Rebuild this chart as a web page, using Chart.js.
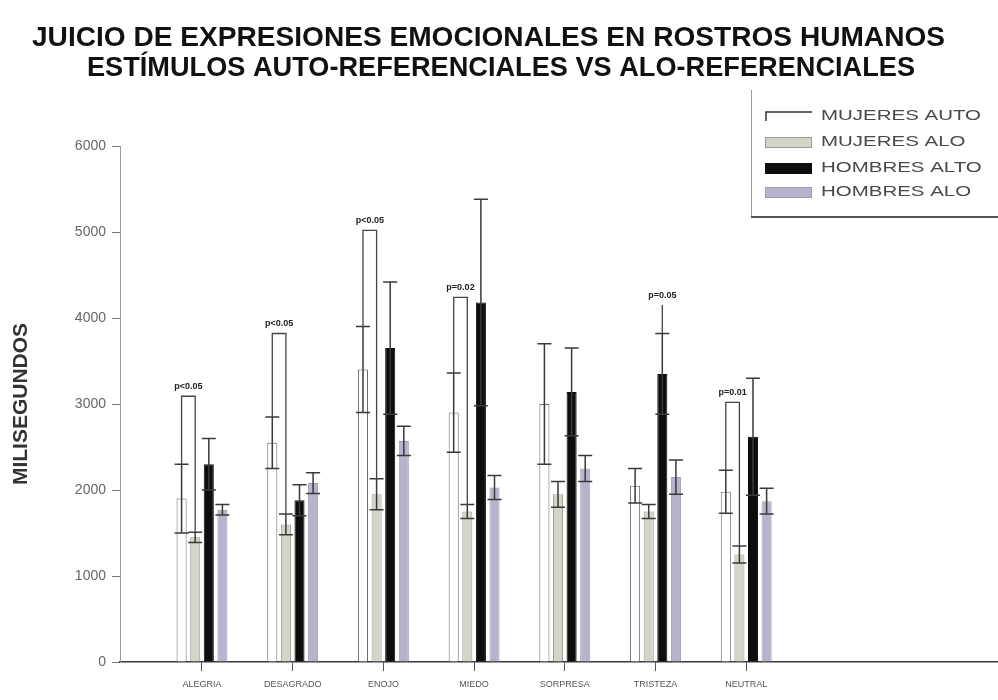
<!DOCTYPE html>
<html lang="es">
<head>
<meta charset="UTF-8">
<title>Juicio de expresiones emocionales en rostros humanos</title>
<script src="https://cdn.jsdelivr.net/npm/chart.js"></script>
<style>
    html, body { margin: 0; padding: 0; background: #fff; }
    #chart { display: block; }
</style>
</head>
<body>
<canvas id="chart" width="998" height="700"></canvas>
<script>
// emociones
const categories = ['ALEGRIA', 'DESAGRADO', 'ENOJO', 'MIEDO', 'SORPRESA', 'TRISTEZA', 'NEUTRAL'];

// tiempos medios (ms) y error por grupo
const mujeresAuto = [1900, 2550, 3400, 2900, 3000, 2050, 1980];
const mujeresAutoErr = [400, 300, 500, 460, 700, 200, 250];
const mujeresAlo = [1450, 1600, 1950, 1750, 1950, 1750, 1250];
const mujeresAloErr = [60, 120, 180, 80, 150, 80, 100];
const hombresAuto = [2300, 1880, 3650, 4180, 3140, 3350, 2620];
const hombresAutoErr = [300, 180, 770, 1200, 510, 470, 680];
const hombresAlo = [1770, 2080, 2570, 2030, 2250, 2150, 1870];
const hombresAloErr = [60, 120, 170, 140, 150, 200, 150];

const seriesNames = ['MUJERES AUTO', 'MUJERES ALO', 'HOMBRES ALTO', 'HOMBRES ALO'];
const yTicks = [0, 1000, 2000, 3000, 4000, 5000, 6000];

// comparaciones marcadas: emoción, barra inicial, barra final, altura, texto
const pCategory = [0, 1, 2, 3, 5, 6];
const pFrom = [0, 0, 0, 0, 2, 0];
const pTo = [1, 1, 1, 1, 2, 1];
const pHeight = [3090, 3820, 5020, 4240, 4150, 3020];
const pLabels = ['p<0.05', 'p<0.05', 'p<0.05', 'p=0.02', 'p=0.05', 'p=0.01'];

const titleLines = [
    'JUICIO DE EXPRESIONES EMOCIONALES EN ROSTROS HUMANOS',
    'ESTÍMULOS AUTO-REFERENCIALES VS ALO-REFERENCIALES'
];

const values = [mujeresAuto, mujeresAlo, hombresAuto, hombresAlo];
const errors = [mujeresAutoErr, mujeresAloErr, hombresAutoErr, hombresAloErr];
const fills = ['#ffffff', '#d3d5c9', '#0d0d0d', '#b5b4cc'];
const borders = ['#6a6a6a', '#9a9c92', '#0d0d0d', '#9c9bb8'];

const toPoints = arr => arr.map((v, i) => ({ x: i + 1, y: v }));

// barras de error (+/-) con remates
const errorBars = {
    id: 'errorBars',
    afterDatasetsDraw(chart) {
        const { ctx } = chart;
        const y = chart.scales.y;
        ctx.save();
        ctx.strokeStyle = '#3a3a3a';
        ctx.lineWidth = 1.5;
        values.forEach((series, s) => {
            const meta = chart.getDatasetMeta(s);
            meta.data.forEach((bar, i) => {
                const top = y.getPixelForValue(series[i] + errors[s][i]);
                const bot = y.getPixelForValue(series[i] - errors[s][i]);
                ctx.beginPath();
                ctx.moveTo(bar.x, bot);
                ctx.lineTo(bar.x, top);
                ctx.moveTo(bar.x - 7, top);
                ctx.lineTo(bar.x + 7, top);
                ctx.moveTo(bar.x - 7, bot);
                ctx.lineTo(bar.x + 7, bot);
                ctx.stroke();
            });
        });
        ctx.restore();
    }
};

// corchetes de significancia
const brackets = {
    id: 'brackets',
    afterDatasetsDraw(chart) {
        const { ctx } = chart;
        const y = chart.scales.y;
        ctx.save();
        ctx.strokeStyle = '#444';
        ctx.lineWidth = 1.3;
        ctx.fillStyle = '#222';
        ctx.font = 'bold 9px "Liberation Sans", Arial, sans-serif';
        ctx.textAlign = 'center';
        ctx.textBaseline = 'bottom';
        pCategory.forEach((c, k) => {
            const a = pFrom[k], b = pTo[k];
            const xa = chart.getDatasetMeta(a).data[c].x;
            const xb = chart.getDatasetMeta(b).data[c].x;
            const ya = y.getPixelForValue(values[a][c] + errors[a][c]);
            const yb = y.getPixelForValue(values[b][c] + errors[b][c]);
            const yt = y.getPixelForValue(pHeight[k]);
            ctx.beginPath();
            ctx.moveTo(xa, ya);
            ctx.lineTo(xa, yt);
            if (a !== b) {
                ctx.lineTo(xb, yt);
                ctx.lineTo(xb, yb);
            }
            ctx.stroke();
            ctx.fillText(pLabels[k], (xa + xb) / 2, yt - 5);
        });
        ctx.restore();
    }
};

// título en dos líneas y leyenda en recuadro
const header = {
    id: 'header',
    afterDraw(chart) {
        const { ctx } = chart;
        ctx.save();
        ctx.fillStyle = '#111';
        ctx.textBaseline = 'middle';
        ctx.textAlign = 'center';
        ctx.font = 'bold 28px "Liberation Sans Narrow", "Liberation Sans", Arial, sans-serif';
        const spans = [[32, 945, 38], [87, 915, 68]];
        titleLines.forEach((line, i) => {
            const [x0, x1, yc] = spans[i];
            const k = (x1 - x0) / ctx.measureText(line).width;
            ctx.save();
            ctx.translate((x0 + x1) / 2, yc);
            ctx.scale(k, 1);
            ctx.fillText(line, 0, 0);
            ctx.restore();
        });

        // recuadro
        ctx.strokeStyle = '#9a9a9a';
        ctx.lineWidth = 1;
        ctx.beginPath();
        ctx.moveTo(751.5, 90);
        ctx.lineTo(751.5, 216);
        ctx.stroke();
        ctx.strokeStyle = '#555';
        ctx.lineWidth = 2;
        ctx.beginPath();
        ctx.moveTo(751, 217);
        ctx.lineTo(998, 217);
        ctx.stroke();

        const rows = [116, 142, 168, 192];
        ctx.font = '15px "Liberation Sans", Arial, sans-serif';
        ctx.textAlign = 'left';
        const k = 160 / ctx.measureText(seriesNames[0]).width;
        seriesNames.forEach((name, s) => {
            const yc = rows[s];
            if (s === 0) {
                ctx.strokeStyle = '#333';
                ctx.lineWidth = 1.5;
                ctx.beginPath();
                ctx.moveTo(766, yc + 5);
                ctx.lineTo(766, yc - 4);
                ctx.lineTo(812, yc - 4);
                ctx.stroke();
            } else {
                ctx.fillStyle = fills[s];
                ctx.fillRect(765, yc - 5, 47, 11);
                ctx.strokeStyle = borders[s];
                ctx.lineWidth = 1;
                ctx.strokeRect(765.5, yc - 4.5, 46, 10);
            }
            ctx.fillStyle = '#4a4a4a';
            ctx.save();
            ctx.translate(821, yc);
            ctx.scale(k, 1);
            ctx.fillText(name, 0, 0);
            ctx.restore();
        });
        ctx.restore();
    }
};

new Chart(document.getElementById('chart'), {
    type: 'bar',
    data: {
        datasets: seriesNames.map((name, s) => ({
            label: name,
            data: toPoints(values[s]),
            backgroundColor: fills[s],
            borderColor: borders[s],
            borderWidth: 1,
            categoryPercentage: 0.6,
            barPercentage: 0.74
        }))
    },
    options: {
        responsive: false,
        animation: false,
        layout: { padding: { top: 146, right: 0, bottom: 0, left: 0 } },
        plugins: {
            legend: { display: false },
            title: { display: false },
            tooltip: { enabled: false }
        },
        scales: {
            x: {
                type: 'linear',
                offset: false,
                min: 0.096,
                max: 9.776,
                afterBuildTicks: scale => {
                    scale.ticks = categories.map((c, i) => ({ value: i + 1 }));
                },
                afterFit: scale => { scale.height = 38; },
                ticks: {
                    callback: v => categories[v - 1] || '',
                    color: '#555',
                    font: { size: 9, family: '"Liberation Sans", Arial, sans-serif' },
                    maxRotation: 0,
                    autoSkip: false,
                    padding: 8
                },
                grid: { offset: false, drawOnChartArea: false, drawTicks: true, tickLength: 9, color: '#555' },
                border: { color: '#3a3a3a', width: 1.5 }
            },
            y: {
                min: 0,
                max: 6000,
                afterBuildTicks: scale => {
                    scale.ticks = yTicks.map(v => ({ value: v }));
                },
                afterFit: scale => { scale.width = 120; },
                ticks: {
                    callback: v => String(v),
                    color: '#666',
                    font: { size: 14, family: '"Liberation Sans", Arial, sans-serif' },
                    padding: 6
                },
                grid: { drawOnChartArea: false, drawTicks: true, tickLength: 8, color: '#777' },
                border: { color: '#9a9a9a', width: 1 },
                title: {
                    display: true,
                    text: 'MILISEGUNDOS',
                    color: '#333',
                    font: { size: 21, weight: 'bold', family: '"Liberation Sans", Arial, sans-serif' },
                    padding: { top: 9, bottom: 0 }
                }
            }
        }
    },
    plugins: [errorBars, brackets, header]
});
</script>
</body>
</html>
